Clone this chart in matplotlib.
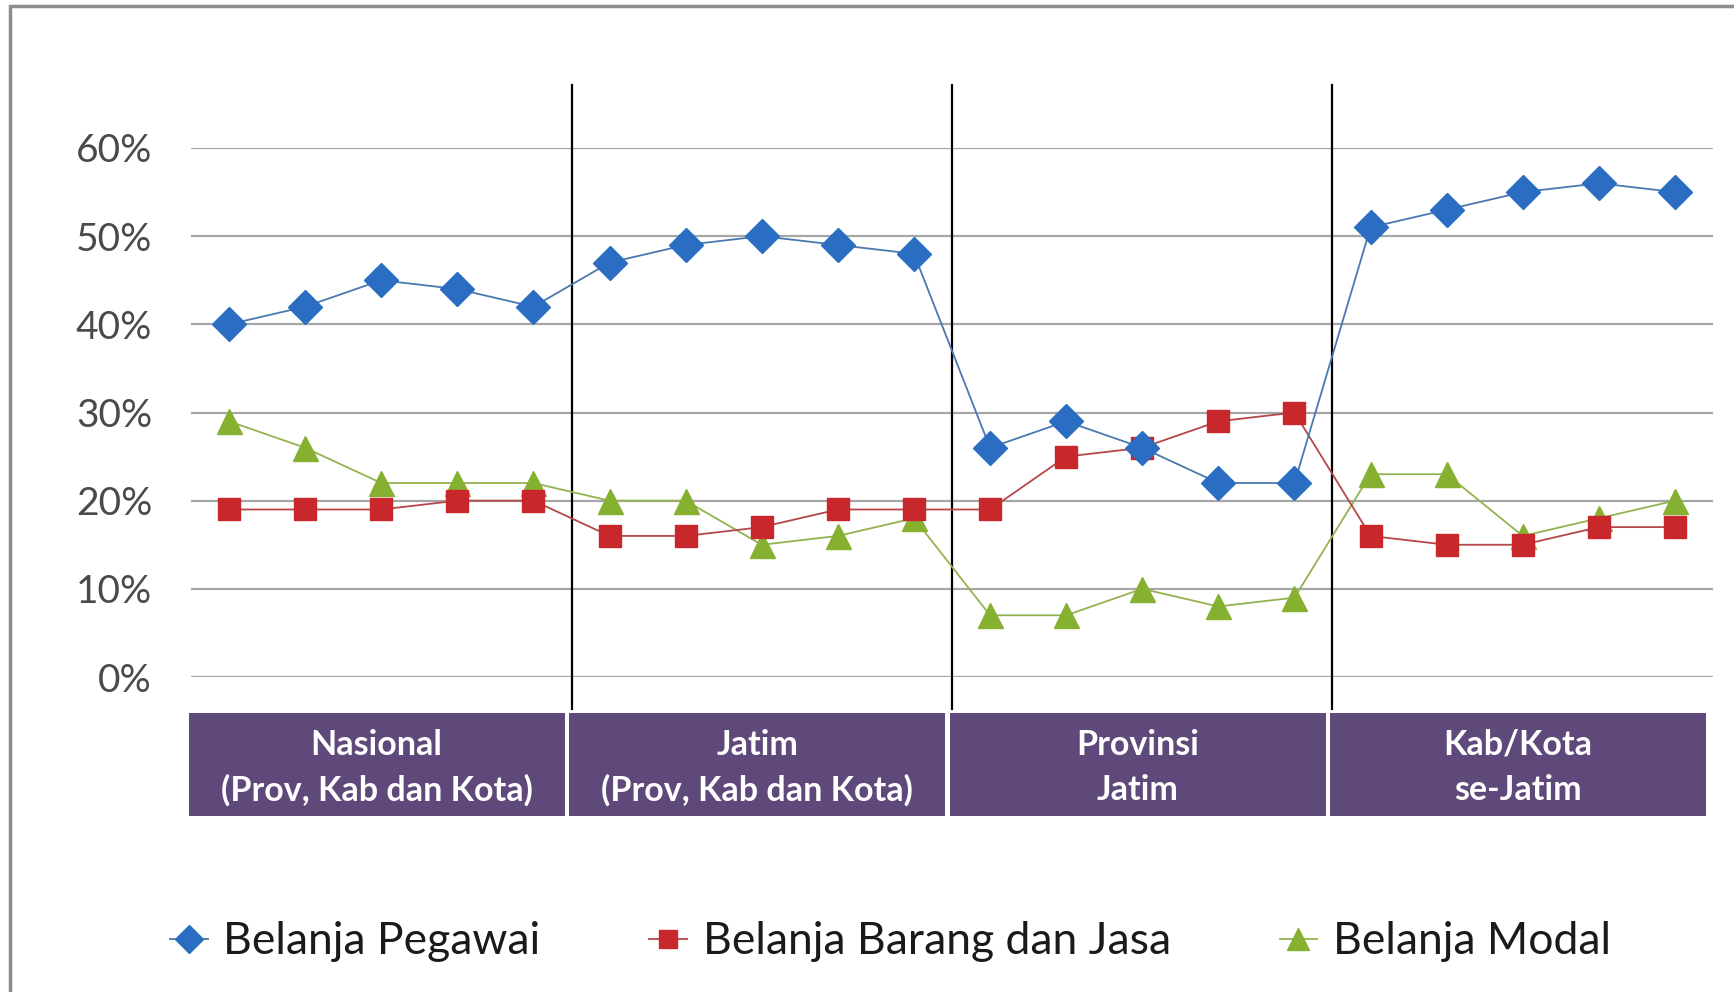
import matplotlib.pyplot as plt
from matplotlib.patches import Rectangle
import matplotlib.transforms as mtransforms

plt.rcParams['font.family'] = ['Lato', 'DejaVu Sans']

groups = ["Nasional\n(Prov, Kab dan Kota)", "Jatim\n(Prov, Kab dan Kota)",
          "Provinsi\nJatim", "Kab/Kota\nse-Jatim"]
per_group = 5

pegawai = [40, 42, 45, 44, 42, 47, 49, 50, 49, 48,
           26, 29, 26, 22, 22, 51, 53, 55, 56, 55]
barang_jasa = [19, 19, 19, 20, 20, 16, 16, 17, 19, 19,
               19, 25, 26, 29, 30, 16, 15, 15, 17, 17]
modal = [29, 26, 22, 22, 22, 20, 20, 15, 16, 18,
         7, 7, 10, 8, 9, 23, 23, 16, 18, 20]
yticks = [0, 10, 20, 30, 40, 50, 60]

W, H = 1734, 992
fig = plt.figure(figsize=(W / 100, H / 100), dpi=100)
ax = fig.add_axes([191 / W, 1 - 677 / H, (1713 - 191) / W, (677 - 148) / H])

x = list(range(len(pegawai)))
ax.plot(x, pegawai, color='#4A78B0', lw=1.3, marker='D', ms=17,
        mfc='#2A6DC2', mec='#2A6DC2', label='Belanja Pegawai', zorder=5)
ax.plot(x, barang_jasa, color='#B5474A', lw=1.3, marker='s', ms=16,
        mfc='#C8282C', mec='#C8282C', label='Belanja Barang dan Jasa', zorder=4)
ax.plot(x, modal, color='#93B350', lw=1.3, marker='^', ms=18,
        mfc='#86B030', mec='#86B030', label='Belanja Modal', zorder=3)

ax.set_xlim(-0.5, len(pegawai) - 0.5)
ax.set_ylim(0, 60)
ax.set_yticks(yticks)
ax.set_yticklabels([f"{t}%" for t in yticks])
ax.set_xticks([])
ax.grid(axis='y', color='#A6A6A6', lw=1.6)
ax.set_axisbelow(True)
for s in ax.spines.values():
    s.set_visible(False)
ax.tick_params(axis='y', length=0, pad=28, labelsize=28, labelcolor='#4a4a4a')

trans = mtransforms.blended_transform_factory(ax.transData, ax.transAxes)
# group separators
for g in range(1, len(groups)):
    xs = g * per_group - 0.5
    ax.plot([xs, xs], [-0.06, 1.12], color='black', lw=1.6,
            transform=trans, clip_on=False, zorder=2)

# purple category boxes
for g, name in enumerate(groups):
    x0 = g * per_group - 0.53
    ax.add_patch(Rectangle((x0, -0.262), per_group - 0.06, 0.194,
                           transform=trans, facecolor='#5F497A',
                           edgecolor='none', clip_on=False))
    ax.text(x0 + (per_group - 0.06) / 2, -0.171, name, transform=trans,
            ha='center', va='center', color='white', fontsize=24.5,
            fontweight='bold', linespacing=1.5)

fig.legend(loc='center', bbox_to_anchor=(0.5135, 1 - 942 / H), ncol=3,
           frameon=False, fontsize=32, handlelength=0.85, handletextpad=0.35,
           columnspacing=2.45, labelcolor='#1a1a1a', markerscale=0.85)

# outer frame
fig.add_artist(Rectangle((10 / W, -0.1), 1.2, 1 - 6 / H + 0.1,
                         transform=fig.transFigure, facecolor='none',
                         edgecolor='#8C8C8C', lw=2.5))

fig.savefig('out.png', dpi=100)
